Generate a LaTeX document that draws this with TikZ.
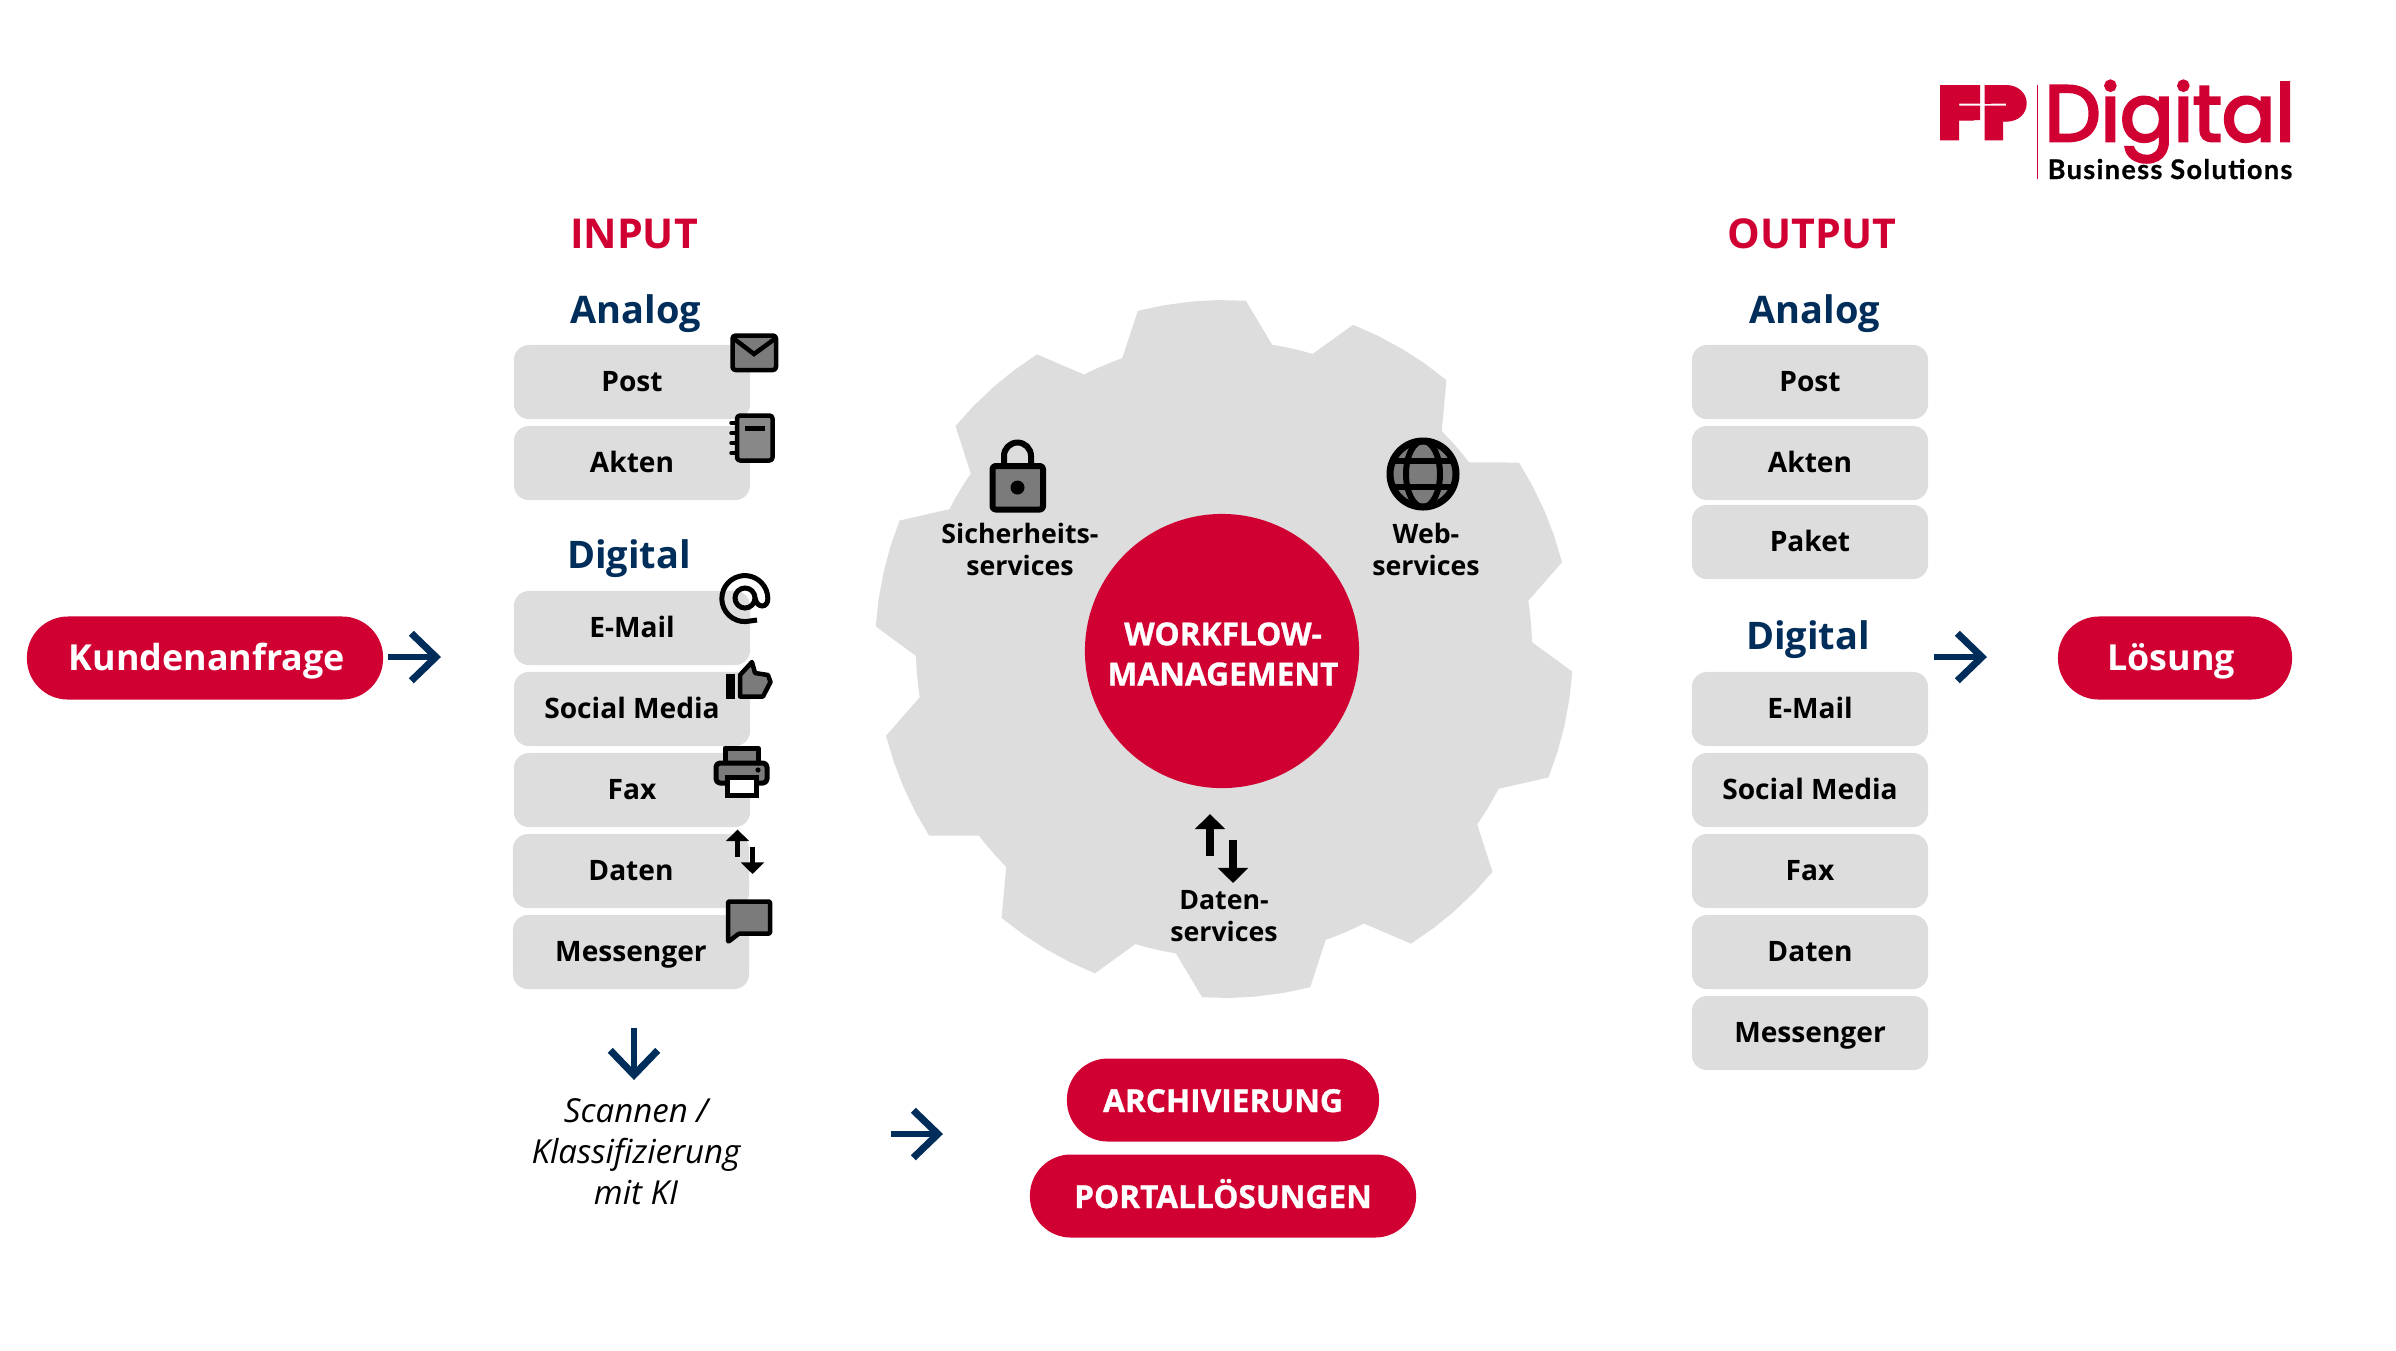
\documentclass[tikz,border=0pt]{standalone}
\usepackage{fontspec}
\usepackage{xcolor}
\usetikzlibrary{positioning,arrows.meta}
\setmainfont{Open Sans}
\newfontfamily\semifont{Open Sans Bold}
\newfontfamily\xbfont[FakeBold=1]{Open Sans Bold}
\newfontfamily\logofont[FakeBold=3.5]{Poppins}
\newfontfamily\fpfont[FakeStretch=0.88]{Liberation Sans Bold}
\newfontfamily\subfont[FakeBold=0.8,LetterSpace=5]{Lato Bold}
\definecolor{fpred}{HTML}{D00032}
\definecolor{fpnavy}{HTML}{002D5A}
\definecolor{boxgray}{HTML}{DDDDDD}
\definecolor{icongray}{HTML}{7B7B7B}
\tikzset{
  itembox/.style={fill=boxgray,rounded corners=0.15cm,minimum width=2.36cm,minimum height=0.74cm,
    inner sep=0pt,text height=0.185cm,text depth=0pt,font=\semifont\fontsize{8}{9.5}\selectfont},
  pill/.style={fill=fpred,text=white,rounded corners=0.41cm,minimum height=0.83cm,
    inner sep=0pt,text height=0.24cm,text depth=0pt,font=\semifont\fontsize{10.2}{12}\selectfont},
  pillcaps/.style={pill,font=\xbfont\fontsize{9}{11}\selectfont},
  headred/.style={text=fpred,font=\bfseries\fontsize{11.7}{14}\selectfont},
  headnavy/.style={text=fpnavy,font=\bfseries\fontsize{10.8}{13}\selectfont},
  servicetext/.style={align=center,font=\semifont\fontsize{7.6}{9.1}\selectfont},
  flowarrow/.style={draw=fpnavy,line width=0.065cm,-{Straight Barb[length=7pt,width=13.5pt,line width=2pt]}},
  icon/.style={draw=black,fill=icongray,line width=0.045cm,line join=round},
  gearfill/.style={fill=boxgray},
  swaparrow/.style={draw=black,-{Triangle[length=#1,width=1.95*#1]}}
}
\begin{document}
\begin{tikzpicture}[x=0.01cm,y=-0.01cm]
  \useasboundingbox (0,0) rectangle (2396,1350);

  % Gear
  \begin{scope}[shift={(1224,649)}]
    \fill[gearfill] (0,0) circle (308);
    \foreach \a in {0,36,...,324} {
      \fill[gearfill] (\a-109.3:308) -- (\a-104.3:349) -- (\a-100:349) -- (\a-95.3:349)
        -- (\a-91:349) -- (\a-86.4:349) -- (\a-81:308) -- cycle;
    }
  \end{scope}
  \node[circle,fill=fpred,minimum size=2.74cm,inner sep=0pt] (workflow) at (1222,651) {};
  \node[text=white,inner sep=0pt,align=center,font=\xbfont\fontsize{9}{11.4}\selectfont]
    (workflowtext) at (1223,654) {WORKFLOW-\\MANAGEMENT};

  % Headings
  \node[headred] (input) at (634,234) {INPUT};
  \node[headred] (output) at (1812,234) {OUTPUT};
  \node[headnavy] (inanalog) at (636,314) {Analog};
  \node[headnavy] (indigital) at (629,559) {Digital};
  \node[headnavy] (outanalog) at (1815,314) {Analog};
  \node[headnavy] (outdigital) at (1808,640) {Digital};

  % Input column
  \foreach \x/\y/\nm/\lbl in {632/382/post/Post,632/463/akten/Akten,632/628/mail/E-Mail,
    632/709/social/Social Media,632/790/fax/Fax,631/871/daten/Daten,631/952/messenger/Messenger} {
    \node[itembox] (in\nm) at (\x,\y) {\lbl};
  }

  % Output column
  \foreach \y/\nm/\lbl in {382/post/Post,463/akten/Akten,542/paket/Paket,709/mail/E-Mail,
    790/social/Social Media,871/fax/Fax,952/daten/Daten,1033/messenger/Messenger} {
    \node[itembox] (out\nm) at (1810,\y) {\lbl};
  }

  % Pills
  \node[pill,minimum width=3.56cm] (kunde) at (205,658) {\hspace*{0.04cm}Kundenanfrage};
  \node[pill,minimum width=2.34cm] (loesung) at (2175,658) {Lösung\hspace*{0.08cm}};
  \node[pillcaps,minimum width=3.12cm] (archiv) at (1223,1100) {ARCHIVIERUNG};
  \node[pillcaps,minimum width=3.86cm] (portal) at (1223,1196) {PORTALLÖSUNGEN};

  % Scan text
  \node[align=center,font=\itshape\fontsize{9.4}{11.7}\selectfont] (scan) at (636,1152)
    {Scannen /\\Klassifizierung\\mit KI};

  % Arrows
  \coordinate (kundeout) at (388,657);
  \coordinate (kundetip) at (441,657);
  \coordinate (loesungin) at (1934,657);
  \coordinate (loesungtip) at (1987,657);
  \coordinate (scanin) at (634,1028);
  \coordinate (scantip) at (634,1080);
  \coordinate (scanout) at (891,1134);
  \coordinate (scanouttip) at (943,1134);
  \draw[flowarrow] (kundeout) -- (kundetip);
  \draw[flowarrow] (loesungin) -- (loesungtip);
  \draw[flowarrow] (scanin) -- (scantip);
  \draw[flowarrow] (scanout) -- (scanouttip);

  % Envelope
  \draw[icon,rounded corners=0.03cm] (732.5,335.5) rectangle (776,370);
  \draw[line width=0.045cm] (733,338) -- (754,354) -- (776,338);

  % Notebook
  \draw[icon,fill=icongray!90,rounded corners=0.03cm] (737,415.5) rectangle (772.5,460.5);
  \fill (744.5,426) rectangle (764.5,430.5);
  \foreach \y in {423,433,443,453} {
    \draw[line width=0.035cm,line cap=round] (731,\y) -- (737,\y);
  }

  % At sign
  \draw[line width=0.05cm] (745,598) circle (10);
  \draw[line width=0.05cm] (757,620) -- (750,621) arc[start angle=77,end angle=360,radius=23]
    .. controls (768,608) and (757,609) .. (755,598);

  % Thumb
  \fill (726,674) rectangle (734.5,699);
  \draw[icon] (740,696.5) -- (740,675) -- (752,662) -- (755,673) -- (768,675) -- (770.5,682)
    -- (763,696.5) -- cycle;

  % Printer
  \draw[icon,line width=0.05cm] (725,748) rectangle (758,765);
  \draw[icon,line width=0.05cm,rounded corners=0.04cm] (716,783) -- (716,763) -- (767,763) -- (767,783) -- cycle;
  \draw[line width=0.05cm,fill=white] (727,777) rectangle (756,795);
  \fill (758,770) circle (2.6);

  % Data arrows on the list
  \draw[swaparrow=3.3pt,line width=0.05cm] (737.5,857) -- (737.5,829.5);
  \draw[swaparrow=3.3pt,line width=0.05cm] (752.5,847) -- (752.5,874);

  % Speech bubble
  \draw[icon,rounded corners=0.01cm] (728,901.5) -- (770,901.5) -- (770,933.5) -- (739,933.5) -- (728,942) -- cycle;

  % Lock
  \draw[line width=0.06cm] (1004,465) -- (1004,456) arc[start angle=180,end angle=360,radius=13.5] -- (1031,465);
  \draw[icon,line width=0.06cm,rounded corners=0.03cm] (992.5,466) rectangle (1043,509.5);
  \fill (1017.5,487.5) circle (7);

  % Globe
  \draw[icon,line width=0.07cm] (1423,474) circle (33);
  \draw[line width=0.06cm] (1423,474) ellipse (17 and 33);
  \draw[line width=0.06cm] (1392,461) -- (1454,461);
  \draw[line width=0.06cm] (1392,487) -- (1454,487);

  % Data arrows on the gear
  \draw[swaparrow=4.3pt,line width=0.08cm] (1210,856) -- (1210,814);
  \draw[swaparrow=4.3pt,line width=0.08cm] (1233,840) -- (1233,883);

  % Service labels
  \node[servicetext] (security) at (1020,549) {Sicherheits-\\services};
  \node[servicetext] (web) at (1426,549) {Web-\\services};
  \node[servicetext] (dataserv) at (1224,916) {Daten-\\services};

  % Logo
  \node[inner sep=0pt,anchor=base west,text=fpred,font=\fpfont\fontsize{21.8}{22}\selectfont] (logofp) at (1936,140.3) {FP};
  \fill[white] (1980,80) rectangle (1984.5,145);
  \fill[white] (1959,103.7) rectangle (2006,105.7);
  \fill[fpred] (1940,85) -- (1980,85) -- (1980,103.7) -- (1959,103.7) -- (1959,105.7) -- (1980,105.7)
    -- (1980,120) -- (1959,120) -- (1959,140.3) -- (1940,140.3) -- cycle;
  \fill[fpred] (1984.5,85) -- (2006,85) .. controls (2018,85) and (2026.7,93) .. (2026.7,103.3)
    .. controls (2026.7,114) and (2018,121.7) .. (2006,121.7) -- (2003,121.7) -- (2003,140.3)
    -- (1984.5,140.3) -- (1984.5,105.7) -- (2006,105.7) -- (2006,103.7) -- (1984.5,103.7) -- cycle;
  \draw[fpred,line width=0.015cm] (2037.7,85) -- (2037.7,179);
  \node[inner sep=0pt,text=fpred,anchor=base west,font=\logofont\fontsize{22.5}{24}\selectfont] (logodigital) at (2044,141) {Digital};
  \node[inner sep=0pt,anchor=base west,font=\subfont\fontsize{7.7}{9}\selectfont] (logosub) at (2047,179) {Business Solutions};
\end{tikzpicture}
\end{document}
